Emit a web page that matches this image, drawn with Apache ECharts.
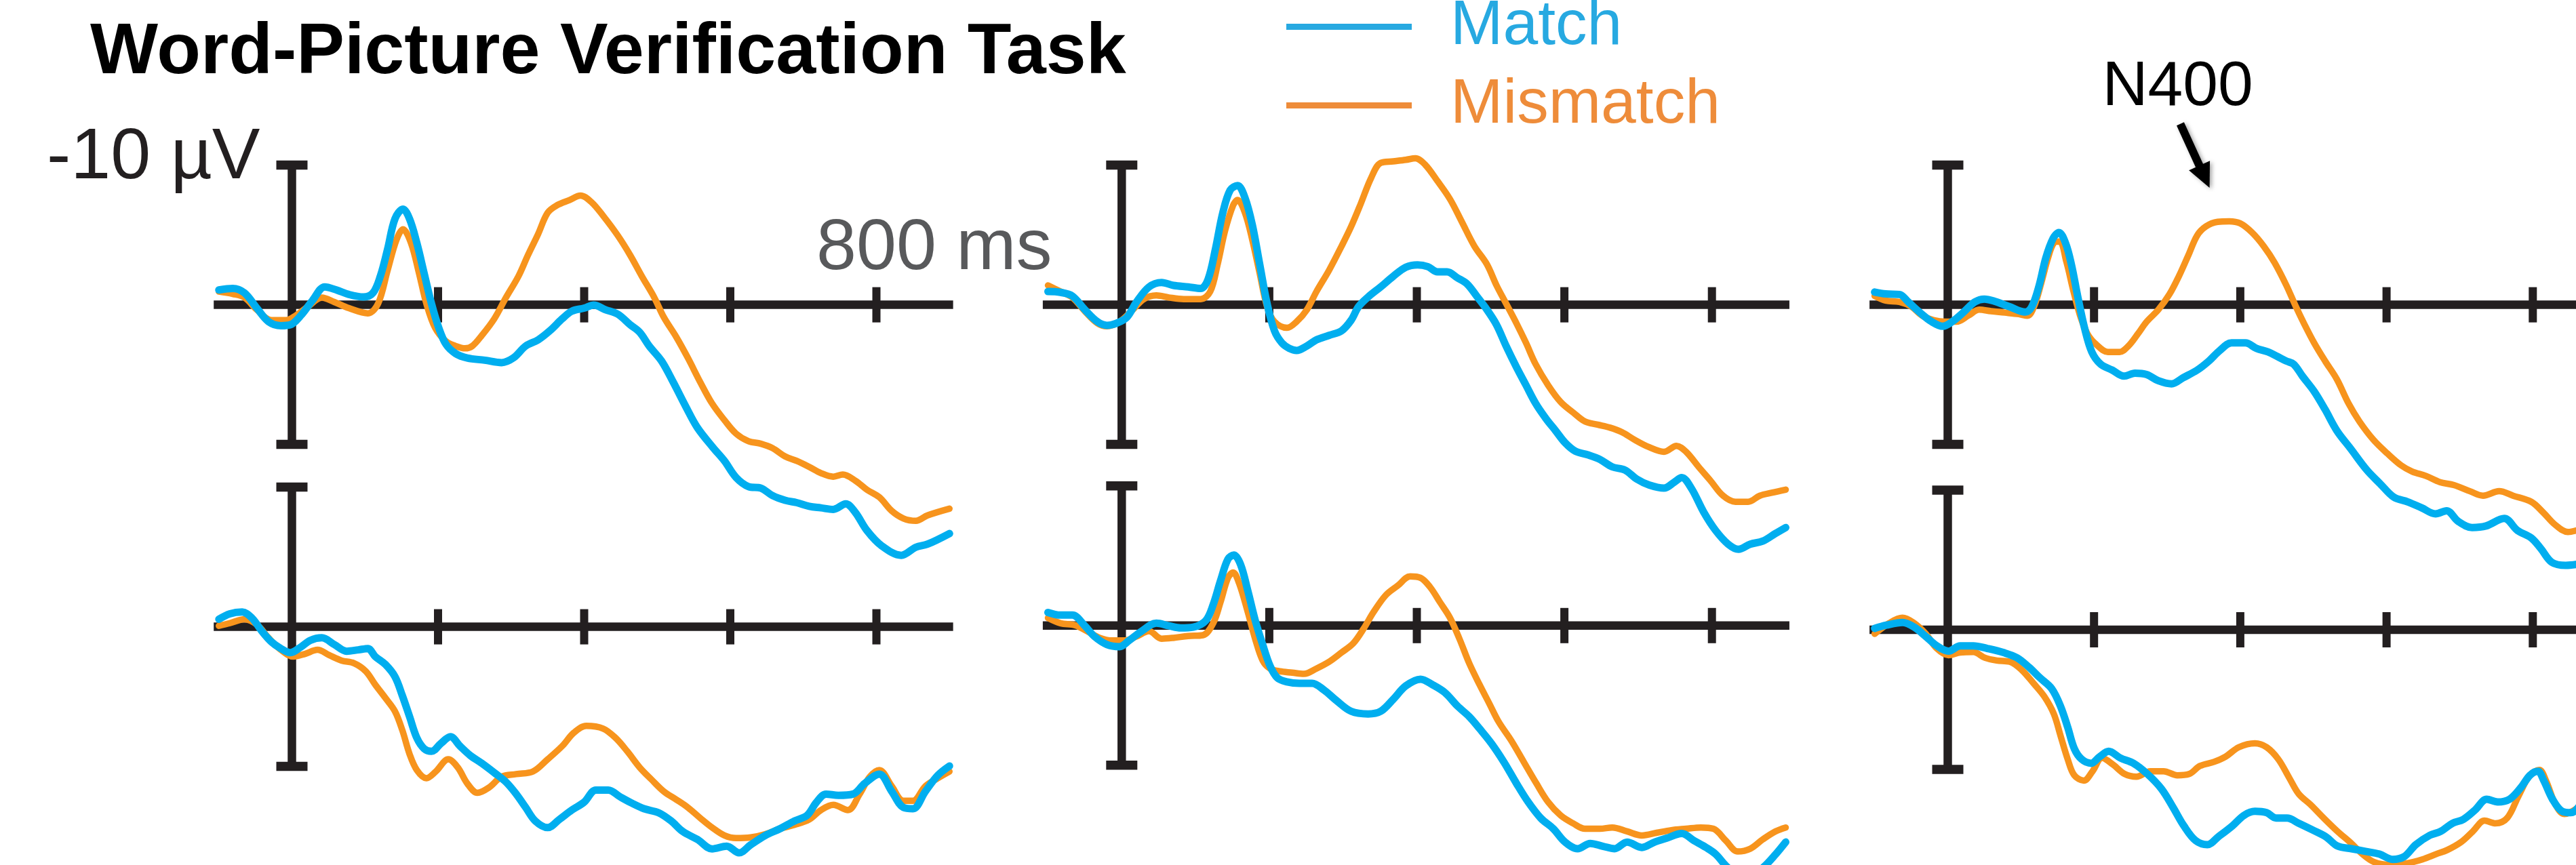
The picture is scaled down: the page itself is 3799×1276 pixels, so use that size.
<!DOCTYPE html>
<html>
<head>
<meta charset="utf-8">
<title>Word-Picture Verification Task</title>
<script src="https://cdn.jsdelivr.net/npm/echarts@6/dist/echarts.min.js"></script>
<style>
  html, body { margin: 0; padding: 0; background: #ffffff; }
  #chart { width: 3799px; height: 1276px; }
</style>
</head>
<body>
<div id="chart"></div>
<script>
// ---- Data: grand-average ERP waveforms, [time (ms), amplitude (µV)] ----
const timeTicks = [200, 400, 600, 800];

const matchA = [[-100,-1.06],[-81,-1.17],[-65,-0.85],[-48,0.24],[-32,1.21],[-15,1.5],[-2,1.43],[12,0.78],[28,-0.3],[45,-1.28],[61,-1.06],[78,-0.74],[98,-0.56],[111,-0.85],[121,-2.04],[131,-3.99],[141,-6.15],[152,-6.85],[161,-6.15],[171,-4.42],[181,-2.25],[191,-0.09],[201,1.65],[211,2.84],[224,3.49],[240,3.81],[264,3.97],[287,4.14],[303,3.81],[320,2.95],[337,2.51],[353,1.86],[370,1.0],[383,0.46],[400,0.24],[413,0.02],[429,0.35],[446,0.67],[463,1.43],[476,1.97],[489,2.95],[506,4.03],[522,5.55],[539,7.28],[555,8.8],[576,10.2],[592,11.18],[608,12.37],[625,13.02],[642,13.13],[658,13.67],[675,14.0],[691,14.17],[708,14.43],[724,14.54],[741,14.65],[758,14.26],[771,14.86],[787,16.16],[807,17.25],[834,17.94],[854,17.36],[870,17.14],[900,16.38]];
const mismatchA = [[-100,-0.95],[-81,-0.78],[-65,-0.52],[-48,0.35],[-28,1.1],[-8,1.1],[5,0.78],[22,0.13],[41,-0.52],[58,-0.2],[78,0.24],[104,0.61],[118,-0.09],[131,-2.47],[143,-4.64],[152,-5.4],[163,-4.42],[174,-2.25],[184,-0.09],[196,1.65],[211,2.62],[224,2.95],[237,3.12],[247,2.95],[260,2.19],[277,1.0],[293,-0.52],[310,-2.04],[323,-3.55],[337,-5.07],[350,-6.59],[363,-7.13],[380,-7.5],[395,-7.82],[410,-7.35],[426,-6.37],[446,-4.96],[463,-3.55],[479,-2.04],[496,-0.52],[509,0.89],[526,2.3],[542,3.81],[559,5.55],[575,7.06],[592,8.26],[608,9.23],[625,9.77],[642,9.95],[658,10.27],[675,10.86],[691,11.18],[708,11.61],[724,12.05],[741,12.31],[754,12.16],[771,12.59],[787,13.24],[804,13.78],[821,14.76],[837,15.3],[854,15.47],[870,15.08],[900,14.6]];

const matchB = [[-100,-0.95],[-83,-0.89],[-67,-0.63],[-50,0.35],[-33,1.21],[-20,1.47],[-7,1.32],[7,0.89],[20,-0.2],[37,-1.28],[54,-1.6],[70,-1.39],[90,-1.28],[107,-1.17],[117,-1.82],[127,-3.99],[137,-6.59],[147,-8.21],[157,-8.54],[167,-7.67],[177,-5.72],[187,-2.9],[197,-0.09],[207,1.86],[217,2.73],[227,3.12],[237,3.27],[251,2.95],[264,2.51],[281,2.19],[298,1.86],[311,1.1],[321,0.13],[334,-0.56],[351,-1.28],[368,-2.04],[385,-2.69],[401,-2.86],[415,-2.73],[428,-2.36],[441,-2.36],[455,-1.93],[468,-1.5],[481,-0.63],[495,0.35],[508,1.43],[521,2.95],[535,4.46],[548,5.76],[561,7.06],[575,8.15],[588,9.01],[601,9.88],[615,10.49],[632,10.75],[648,11.07],[665,11.61],[682,11.83],[698,12.48],[715,12.91],[735,13.13],[749,12.7],[759,12.37],[772,13.13],[789,14.86],[805,16.16],[822,17.14],[836,17.51],[852,17.14],[869,16.92],[886,16.38],[900,15.95]];
const mismatchB = [[-100,-1.39],[-83,-0.95],[-67,-0.52],[-50,0.46],[-33,1.32],[-20,1.54],[-3,1.21],[13,0.46],[30,-0.41],[47,-0.67],[64,-0.52],[84,-0.41],[107,-0.41],[120,-0.95],[130,-2.9],[140,-5.29],[151,-7.13],[157,-7.5],[167,-6.59],[177,-4.64],[187,-2.25],[197,0.13],[207,1.21],[224,1.65],[237,1.21],[251,0.35],[264,-0.95],[281,-2.47],[298,-4.2],[311,-5.61],[324,-7.24],[338,-9.08],[351,-10.16],[368,-10.27],[385,-10.38],[398,-10.49],[411,-10.05],[428,-8.86],[445,-7.56],[461,-5.94],[478,-4.2],[495,-2.9],[508,-1.39],[521,-0.09],[535,1.32],[548,2.73],[561,4.25],[578,5.76],[595,6.96],[612,7.72],[628,8.36],[645,8.58],[662,8.8],[678,9.12],[695,9.66],[715,10.2],[735,10.53],[752,10.1],[765,10.53],[782,11.61],[798,12.59],[815,13.67],[832,14.11],[849,14.11],[865,13.67],[882,13.45],[900,13.24]];

const matchC = [[-100,-0.91],[-85,-0.78],[-66,-0.74],[-54,-0.2],[-38,0.56],[-22,1.21],[-7,1.54],[6,1.21],[21,0.56],[37,-0.2],[50,-0.41],[65,-0.24],[84,0.13],[106,0.52],[115,0.13],[125,-1.39],[134,-3.34],[144,-4.75],[152,-5.18],[161,-4.42],[169,-2.9],[178,-0.52],[187,1.65],[197,3.38],[209,4.25],[225,4.68],[241,5.11],[256,4.9],[272,5.0],[288,5.44],[306,5.66],[322,5.22],[341,4.68],[357,4.03],[372,3.27],[388,2.73],[407,2.73],[422,3.12],[438,3.38],[451,3.71],[463,4.03],[473,4.25],[485,5.11],[501,6.2],[516,7.5],[532,9.01],[551,10.31],[573,11.83],[591,12.8],[610,13.78],[629,14.11],[648,14.54],[667,14.97],[682,14.75],[698,15.51],[717,15.95],[736,15.84],[761,15.3],[779,16.16],[798,16.7],[811,17.46],[826,18.44],[845,18.66],[870,18.5],[900,18.2]];
const mismatchC = [[-100,-0.63],[-85,-0.3],[-66,-0.2],[-50,0.13],[-35,0.78],[-19,1.1],[-4,1.21],[12,1.21],[28,0.78],[43,0.35],[59,0.46],[78,0.56],[97,0.67],[109,0.78],[118,0.13],[128,-1.6],[137,-3.34],[145,-4.42],[153,-4.53],[162,-3.12],[172,-0.95],[181,0.78],[191,2.08],[203,2.84],[219,3.38],[235,3.38],[247,2.95],[260,2.08],[272,1.21],[288,0.35],[303,-0.74],[316,-2.04],[329,-3.55],[341,-4.96],[353,-5.61],[369,-5.94],[385,-5.98],[400,-5.83],[416,-5.18],[432,-4.2],[447,-3.01],[463,-1.39],[476,0.13],[488,1.43],[501,2.73],[516,4.03],[532,5.33],[548,7.06],[563,8.36],[582,9.66],[601,10.64],[620,11.5],[635,11.94],[654,12.26],[673,12.7],[692,12.91],[714,13.35],[732,13.67],[754,13.35],[773,13.67],[798,14.11],[814,14.86],[830,15.73],[848,16.27],[870,16.0],[900,15.6]];

const matchD = [[-100,-0.54],[-85,-0.93],[-68,-1.06],[-55,-0.64],[-41,0.32],[-28,1.08],[-15,1.56],[-2,1.85],[12,1.46],[25,0.98],[41,0.79],[58,1.27],[75,1.75],[91,1.65],[104,1.56],[114,2.13],[128,2.7],[141,3.57],[151,4.91],[161,6.43],[171,7.96],[181,8.73],[191,8.92],[204,8.35],[217,7.87],[230,8.54],[244,9.21],[260,9.78],[277,10.45],[293,11.12],[307,11.98],[320,12.94],[333,13.9],[350,14.38],[366,13.8],[383,13.13],[400,12.56],[416,11.69],[433,11.69],[449,12.17],[466,12.65],[482,13.03],[502,13.32],[519,13.9],[535,14.66],[555,15.23],[575,15.9],[595,15.71],[612,16.19],[628,15.61],[648,14.94],[668,14.46],[688,13.9],[705,13.51],[718,12.56],[731,11.98],[748,12.07],[768,11.98],[784,11.22],[804,10.55],[821,11.79],[837,12.94],[850,13.03],[867,11.79],[884,10.64],[900,9.97]];
const mismatchD = [[-100,-0.07],[-85,-0.26],[-65,-0.54],[-48,-0.16],[-32,0.79],[-15,1.65],[2,2.13],[18,1.94],[35,1.65],[51,2.03],[68,2.42],[85,2.61],[101,3.18],[114,4.14],[128,5.1],[141,6.05],[151,7.39],[161,9.11],[171,10.26],[184,10.84],[197,10.36],[214,9.49],[227,10.07],[240,11.22],[254,11.89],[270,11.5],[287,10.74],[307,10.55],[330,10.36],[350,9.49],[370,8.54],[386,7.58],[403,7.1],[426,7.29],[443,7.96],[459,8.92],[476,10.07],[492,10.93],[509,11.79],[526,12.37],[542,12.94],[559,13.7],[575,14.37],[592,14.94],[608,15.13],[628,15.08],[648,14.85],[668,14.46],[688,14.18],[708,13.8],[724,13.13],[741,12.75],[761,13.13],[777,11.98],[791,10.74],[804,10.26],[821,11.41],[837,12.46],[850,12.46],[867,11.41],[884,10.84],[900,10.36]];

const matchE = [[-100,-0.94],[-83,-0.75],[-67,-0.75],[-50,0.02],[-37,0.78],[-20,1.36],[-3,1.51],[10,1.07],[27,0.4],[47,-0.17],[64,0.02],[80,0.17],[97,0.11],[114,-0.36],[124,-1.51],[134,-3.23],[144,-4.76],[152,-5.05],[161,-4.38],[171,-2.47],[181,-0.36],[191,1.36],[201,2.89],[211,3.75],[224,4.03],[241,4.13],[258,4.13],[274,4.61],[291,5.37],[311,6.14],[334,6.33],[351,6.14],[368,5.28],[385,4.32],[405,3.84],[421,4.23],[438,4.8],[455,5.76],[471,6.52],[485,7.38],[501,8.43],[518,9.77],[535,11.3],[551,12.64],[568,13.79],[585,14.55],[601,15.51],[618,15.98],[635,15.6],[652,15.8],[668,15.98],[685,15.51],[705,15.89],[722,15.51],[739,15.22],[759,14.89],[776,15.41],[792,15.89],[805,16.37],[819,17.2],[835,17.9],[852,18.0],[870,17.3],[886,16.4],[900,15.5]];
const mismatchE = [[-100,-0.55],[-83,-0.17],[-63,-0.02],[-47,0.4],[-30,0.88],[-13,1.07],[4,1.07],[20,0.78],[37,0.4],[54,0.94],[70,0.88],[90,0.75],[110,0.69],[124,-0.17],[134,-1.7],[144,-3.42],[151,-3.8],[159,-3.04],[171,-0.94],[181,0.98],[191,2.5],[201,3.08],[214,3.27],[231,3.37],[247,3.46],[264,3.08],[281,2.6],[298,1.93],[314,1.26],[328,0.21],[341,-0.94],[358,-2.18],[374,-2.85],[391,-3.52],[405,-3.42],[418,-2.75],[431,-1.7],[445,-0.55],[458,0.98],[471,2.7],[485,4.23],[498,5.56],[511,6.9],[528,8.24],[545,9.77],[562,11.3],[578,12.64],[595,13.6],[612,14.17],[628,14.55],[648,14.55],[665,14.46],[685,14.74],[705,15.03],[725,14.84],[745,14.65],[765,14.55],[785,14.46],[802,14.55],[819,15.41],[835,16.18],[852,15.98],[869,15.31],[886,14.74],[900,14.46]];

const matchF = [[-100,-0.1],[-84,-0.33],[-62,-0.52],[-46,-0.19],[-30,0.48],[-15,1.15],[1,1.53],[17,1.15],[35,1.15],[54,1.34],[76,1.63],[95,2.01],[111,2.68],[126,3.44],[142,4.21],[154,5.45],[164,6.98],[173,8.51],[183,9.27],[196,9.56],[208,9.08],[220,8.7],[236,9.18],[254,9.56],[273,10.33],[292,11.38],[308,12.71],[323,14.05],[339,15.1],[355,15.39],[370,14.82],[389,14.05],[405,13.29],[420,13.0],[436,13.1],[449,13.48],[464,13.48],[480,13.86],[499,14.34],[517,14.82],[533,15.49],[552,15.68],[571,15.87],[590,16.06],[608,16.44],[624,16.25],[640,15.39],[659,14.72],[674,14.44],[690,13.86],[705,13.58],[721,12.91],[737,12.14],[752,12.33],[768,12.14],[784,11.28],[796,10.42],[807,10.13],[815,10.8],[827,12.14],[840,13.0],[852,13.1],[870,12.3],[900,11.5]];
const mismatchF = [[-100,0.29],[-80,-0.48],[-62,-0.86],[-46,-0.48],[-30,0.29],[-15,1.34],[1,1.82],[17,1.63],[35,1.59],[51,2.01],[67,2.2],[85,2.29],[101,2.87],[117,3.82],[132,4.78],[145,6.02],[154,7.55],[164,9.27],[173,10.42],[186,10.8],[198,10.13],[211,9.18],[226,9.66],[242,10.33],[258,10.52],[277,10.13],[295,10.13],[314,10.42],[330,10.33],[345,9.75],[364,9.46],[380,9.08],[398,8.41],[420,8.13],[436,8.41],[452,9.27],[467,10.61],[480,11.76],[496,12.52],[514,13.48],[533,14.44],[552,15.3],[567,16.06],[583,16.63],[605,16.83],[627,16.73],[649,16.44],[668,16.06],[683,15.77],[702,15.2],[718,14.44],[734,13.67],[749,13.86],[765,13.48],[780,11.95],[796,10.42],[809,10.04],[818,10.8],[831,12.52],[843,13.19],[870,12.5],[900,11.8]];

// ---- Appearance ----
const FONT = "'Liberation Sans', Arial, Helvetica, sans-serif";
const MATCH_COLOR = '#00aeef';
const MISMATCH_COLOR = '#f7941d';
const AXIS_COLOR = '#231f20';

const xRange = [-110, 910];     // ms shown in each panel
const yRange = [-14, 20];       // µV, negative plotted upward
const axisSpan = [-107, 905];   // drawn extent of the time axis
const scaleBar = 10;            // µV, half-length of the amplitude bar

// panel geometry (pixels)
const colZeroX = [430.5, 1654.3, 2872.5];
const colPxPerMs = [1.0775, 1.088, 1.0785];
const rowZeroY = [[449.6, 449.6, 449.6], [924.6, 922.8, 929.0]];
const pxPerUv = 20.6;
const AXIS_W = 12.5, TICK_W = 12, TICK_H = 52, CAP_W = 46, CAP_H = 13.5;

const panels = [
  { match: matchA, mismatch: mismatchA, row: 0, col: 0 },
  { match: matchB, mismatch: mismatchB, row: 0, col: 1 },
  { match: matchC, mismatch: mismatchC, row: 0, col: 2 },
  { match: matchD, mismatch: mismatchD, row: 1, col: 0 },
  { match: matchE, mismatch: mismatchE, row: 1, col: 1 },
  { match: matchF, mismatch: mismatchF, row: 1, col: 2 }
];

// panels may run past the canvas edge (the waveforms are cropped there), so
// the grids are laid out exactly as given instead of being fitted inside it
const grids = panels.map(p => {
  const k = colPxPerMs[p.col];
  const zx = colZeroX[p.col];
  const zy = rowZeroY[p.row][p.col];
  return {
    left: zx + xRange[0] * k,
    width: (xRange[1] - xRange[0]) * k,
    top: zy + yRange[0] * pxPerUv,
    height: (yRange[1] - yRange[0]) * pxPerUv,
    containLabel: false,
    outerBoundsMode: 'none'
  };
});
const xAxes = panels.map((p, i) => ({ type: 'value', gridIndex: i, min: xRange[0], max: xRange[1], show: false }));
const yAxes = panels.map((p, i) => ({ type: 'value', gridIndex: i, min: yRange[0], max: yRange[1], inverse: true, show: false }));

// time axis with crossing ticks and the amplitude scale bar with end caps
function renderAxes(params, api) {
  const o = api.coord([0, 0]);
  const a0 = api.coord([axisSpan[0], 0]);
  const a1 = api.coord([axisSpan[1], 0]);
  const top = api.coord([0, -scaleBar]);
  const bot = api.coord([0, scaleBar]);
  const style = { fill: AXIS_COLOR };
  const children = [
    { type: 'rect', shape: { x: a0[0], y: o[1] - AXIS_W / 2, width: a1[0] - a0[0], height: AXIS_W }, style },
    { type: 'rect', shape: { x: o[0] - AXIS_W / 2, y: top[1], width: AXIS_W, height: bot[1] - top[1] }, style },
    { type: 'rect', shape: { x: o[0] - CAP_W / 2, y: top[1] - CAP_H / 2, width: CAP_W, height: CAP_H }, style },
    { type: 'rect', shape: { x: o[0] - CAP_W / 2, y: bot[1] - CAP_H / 2, width: CAP_W, height: CAP_H }, style }
  ];
  timeTicks.forEach(t => {
    const c = api.coord([t, 0]);
    children.push({ type: 'rect', shape: { x: c[0] - TICK_W / 2, y: c[1] - TICK_H / 2, width: TICK_W, height: TICK_H }, style });
  });
  return { type: 'group', children };
}

// N400 callout arrow, anchored in the data space of the upper-right panel
const n400Arrow = { from: [318, -12.95], to: [358, -8.38] };
function renderArrow(params, api) {
  const p0 = api.coord(n400Arrow.from);
  const p1 = api.coord(n400Arrow.to);
  const dx = p1[0] - p0[0], dy = p1[1] - p0[1];
  const len = Math.sqrt(dx * dx + dy * dy);
  const ux = dx / len, uy = dy / len, nx = -uy, ny = ux;
  const headL = 36, headW = 34;
  const bx = p1[0] - ux * headL, by = p1[1] - uy * headL;
  const shadow = { shadowBlur: 6, shadowColor: 'rgba(0,0,0,0.35)', shadowOffsetX: 3, shadowOffsetY: 2 };
  return {
    type: 'group',
    children: [
      { type: 'line', shape: { x1: p0[0], y1: p0[1], x2: bx + ux * 4, y2: by + uy * 4 },
        style: Object.assign({ stroke: '#000', lineWidth: 12 }, shadow) },
      { type: 'polygon', shape: { points: [[p1[0], p1[1]], [bx + nx * headW / 2, by + ny * headW / 2], [bx - nx * headW / 2, by - ny * headW / 2]] },
        style: Object.assign({ fill: '#000' }, shadow) },
      { type: 'text', style: { x: p0[0] - 115, y: p0[1] - 53.5, text: 'N400', font: '93px ' + FONT, fill: '#000',
        align: 'left', verticalAlign: 'middle', textAlign: 'left', textVerticalAlign: 'middle' } }
    ]
  };
}

const series = [];
panels.forEach((p, i) => {
  series.push({
    type: 'custom', name: 'axes', xAxisIndex: i, yAxisIndex: i, data: [[0, 0]],
    renderItem: renderAxes, silent: true, z: 1, clip: false
  });
  series.push({
    type: 'line', name: 'Mismatch', xAxisIndex: i, yAxisIndex: i, data: p.mismatch,
    showSymbol: false, smooth: 0.35, color: MISMATCH_COLOR, silent: true, z: 2,
    lineStyle: { width: 9.5, color: MISMATCH_COLOR, cap: 'round', join: 'round' }
  });
  series.push({
    type: 'line', name: 'Match', xAxisIndex: i, yAxisIndex: i, data: p.match,
    showSymbol: false, smooth: 0.35, color: MATCH_COLOR, silent: true, z: 3,
    lineStyle: { width: 11, color: MATCH_COLOR, cap: 'round', join: 'round' }
  });
});
series.push({
  type: 'custom', name: 'annotation', xAxisIndex: 2, yAxisIndex: 2, data: [[0, 0]],
  renderItem: renderArrow, silent: true, z: 5, clip: false
});

const chart = echarts.init(document.getElementById('chart'), null, { renderer: 'canvas' });
chart.setOption({
  animation: false,
  backgroundColor: '#ffffff',
  title: {
    text: 'Word-Picture Verification Task',
    left: 133, top: 26, padding: 0,
    textStyle: { fontSize: 106, fontWeight: 'bold', fontFamily: FONT, color: '#000000' }
  },
  legend: {
    orient: 'vertical', left: 1897, top: -7, padding: 0,
    itemWidth: 185, itemHeight: 9, itemGap: 23, icon: 'rect', selectedMode: false,
    textStyle: { fontSize: 93, fontFamily: FONT, padding: [0, 0, 0, 52] },
    data: [
      { name: 'Match', itemStyle: { color: '#27a9e1' }, textStyle: { color: '#27a9e1' } },
      { name: 'Mismatch', itemStyle: { color: '#ee8c3a' }, textStyle: { color: '#ee8c3a' } }
    ]
  },
  grid: grids,
  xAxis: xAxes,
  yAxis: yAxes,
  graphic: [
    { type: 'text', left: 69, top: 234 - 53, style: { text: '-10 µV', font: '106px ' + FONT, fill: AXIS_COLOR } },
    { type: 'text', left: 1204, top: 368 - 53, style: { text: '800 ms', font: '106px ' + FONT, fill: '#58595b' } }
  ],
  series
});
</script>
</body>
</html>
